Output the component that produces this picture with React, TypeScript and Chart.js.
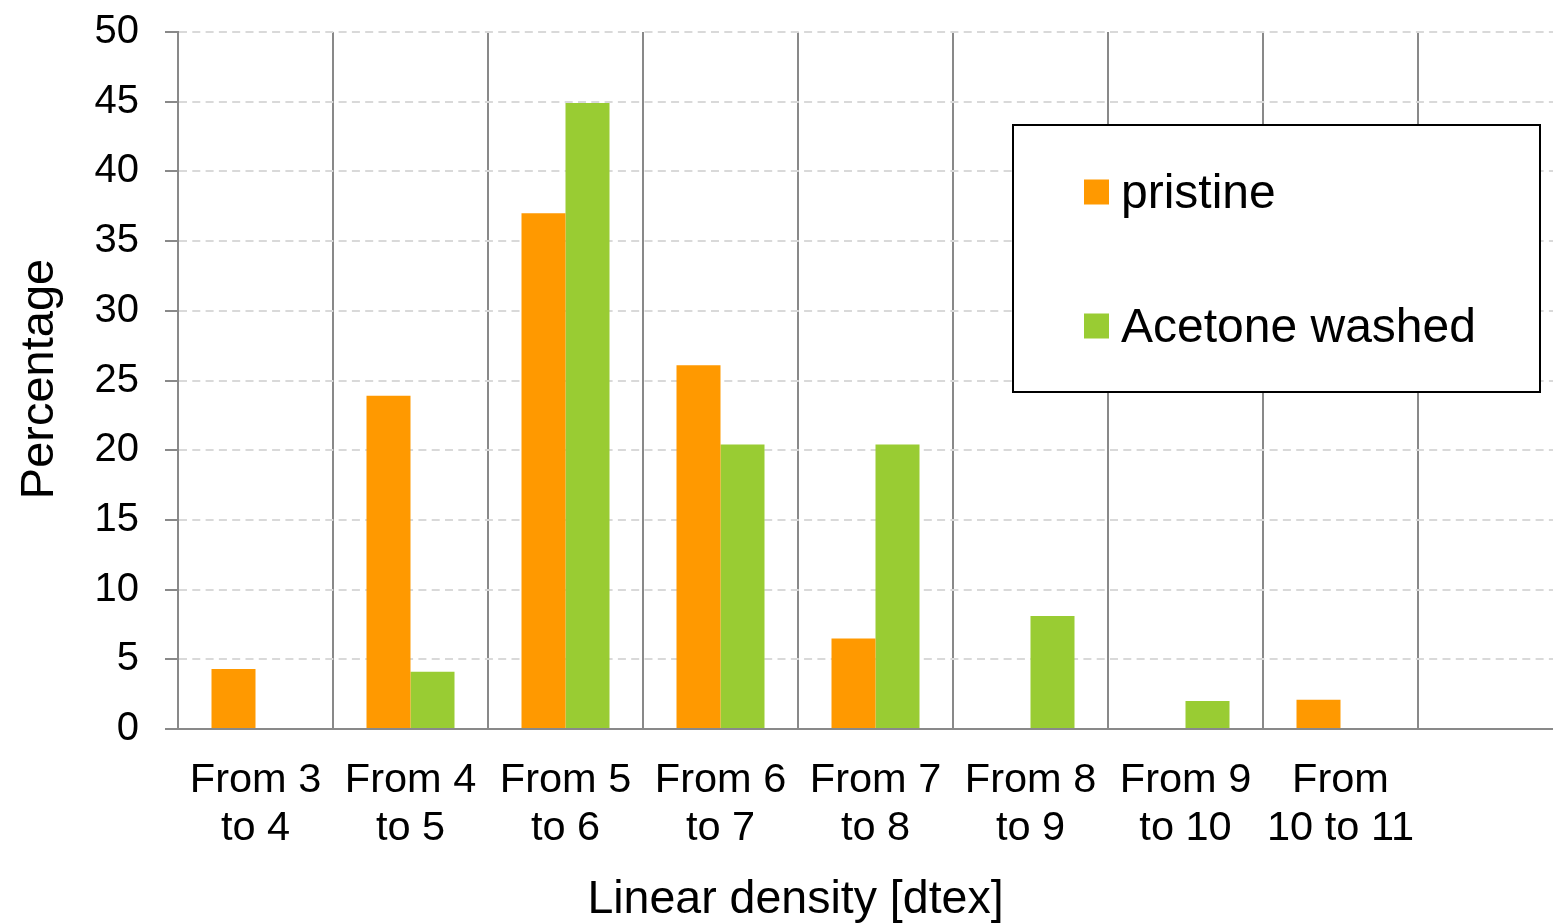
import { useEffect, useRef } from 'react';
import { Chart, registerables } from 'chart.js';

Chart.register(...registerables);

// Linear density classes (two-line tick labels); the trailing empty slot keeps the open bin on the right.
const categories: string[][] = [
  ['From 3', 'to 4'],
  ['From 4', 'to 5'],
  ['From 5', 'to 6'],
  ['From 6', 'to 7'],
  ['From 7', 'to 8'],
  ['From 8', 'to 9'],
  ['From 9', 'to 10'],
  ['From', '10 to 11'],
  [''],
];

// Share of fibres per class, in percent
const pristine: (number | null)[] = [4.3, 23.9, 37.0, 26.1, 6.5, 0, 0, 2.1, null];
const acetoneWashed: (number | null)[] = [0, 4.1, 44.9, 20.4, 20.4, 8.1, 2.0, 0, null];

const seriesNames = ['pristine', 'Acetone washed'];
const seriesColors = ['#FF9900', '#99CC33'];

const yMin = 0;
const yMax = 50;
const yStep = 5;

const xTitle = 'Linear density [dtex]';
const yTitle = 'Percentage';

const FONT = "'Liberation Sans', Arial, Helvetica, sans-serif";
const AXIS_GREY = '#898989';

// Axis titles and the boxed legend
const overlayPlugin = {
  id: 'overlay',
  afterDraw(chart: any) {
    const { ctx, chartArea, scales } = chart;
    const xs = scales.x;
    ctx.save();
    ctx.fillStyle = '#000';

    // Y axis title
    ctx.font = `47px ${FONT}`;
    ctx.textAlign = 'center';
    ctx.textBaseline = 'alphabetic';
    ctx.save();
    ctx.translate(53, (chartArea.top + chartArea.bottom) / 2 - 1.5);
    ctx.rotate(-Math.PI / 2);
    ctx.fillText(yTitle, 0, 0);
    ctx.restore();

    // X axis title, centred under the labelled classes
    ctx.font = `46.5px ${FONT}`;
    const cx = (xs.getPixelForValue(0) + xs.getPixelForValue(7)) / 2 - 2.5;
    ctx.fillText(xTitle, cx, chartArea.bottom + 184);

    // Legend box
    const bx = 1013, by = 125, bw = 527, bh = 267;
    ctx.fillStyle = '#fff';
    ctx.fillRect(bx, by, bw, bh);
    ctx.strokeStyle = '#000';
    ctx.lineWidth = 2;
    ctx.strokeRect(bx, by, bw, bh);

    ctx.font = `48px ${FONT}`;
    ctx.textAlign = 'left';
    const rows = [192, 326];
    seriesNames.forEach((name, i) => {
      const cy = rows[i];
      ctx.fillStyle = seriesColors[i];
      ctx.fillRect(1084, cy - 12.5, 25, 25);
      ctx.fillStyle = '#000';
      ctx.fillText(name, 1121, cy + 15.5);
    });

    ctx.restore();
  },
};

export default function App() {
  const canvasRef = useRef<HTMLCanvasElement | null>(null);

  useEffect(() => {
    if (!canvasRef.current) return;
    const chart = new Chart(canvasRef.current, {
      type: 'bar',
      data: {
        labels: categories,
        datasets: [
          {
            label: seriesNames[0],
            data: pristine,
            backgroundColor: seriesColors[0],
            borderWidth: 0,
            barPercentage: 1,
            categoryPercentage: 88 / 155,
          },
          {
            label: seriesNames[1],
            data: acetoneWashed,
            backgroundColor: seriesColors[1],
            borderWidth: 0,
            barPercentage: 1,
            categoryPercentage: 88 / 155,
          },
        ],
      },
      options: {
        responsive: false,
        animation: false,
        devicePixelRatio: 1,
        layout: { padding: { top: 32, right: 7, bottom: 0, left: 0 } },
        plugins: {
          legend: { display: false },
          tooltip: { enabled: false },
        },
        scales: {
          x: {
            grid: {
              color: AXIS_GREY,
              lineWidth: 2,
              drawTicks: false,
              offset: true,
            },
            border: { color: AXIS_GREY, width: 2 },
            ticks: {
              color: '#000',
              font: { family: FONT, size: 41.5, lineHeight: 1.15 },
              padding: 28,
              maxRotation: 0,
              minRotation: 0,
              autoSkip: false,
            },
            afterFit(scale: any) {
              scale.height = 195;
              scale.paddingLeft = 0;
              scale.paddingRight = 0;
              scale.paddingTop = 0;
              scale.paddingBottom = 0;
            },
          },
          y: {
            min: yMin,
            max: yMax,
            ticks: {
              stepSize: yStep,
              color: '#000',
              font: { family: FONT, size: 40 },
              padding: 26,
            },
            grid: {
              color: '#d9d9d9',
              lineWidth: 2,
              tickLength: 13,
              tickColor: AXIS_GREY,
              tickWidth: 2,
              tickBorderDash: [],
            },
            border: { color: AXIS_GREY, width: 2, dash: [8, 5.3] },
            afterFit(scale: any) {
              scale.width = 178;
              scale.paddingLeft = 0;
              scale.paddingRight = 0;
              scale.paddingTop = 0;
              scale.paddingBottom = 0;
            },
          },
        },
      } as any,
      plugins: [overlayPlugin],
    });
    return () => chart.destroy();
  }, []);

  return (
    <div
      style={{
        position: 'fixed',
        left: 0,
        top: 0,
        width: 1553,
        height: 924,
        overflow: 'hidden',
        background: '#fff',
      }}
    >
      <canvas ref={canvasRef} width={1580} height={924} style={{ display: 'block' }} />
    </div>
  );
}
